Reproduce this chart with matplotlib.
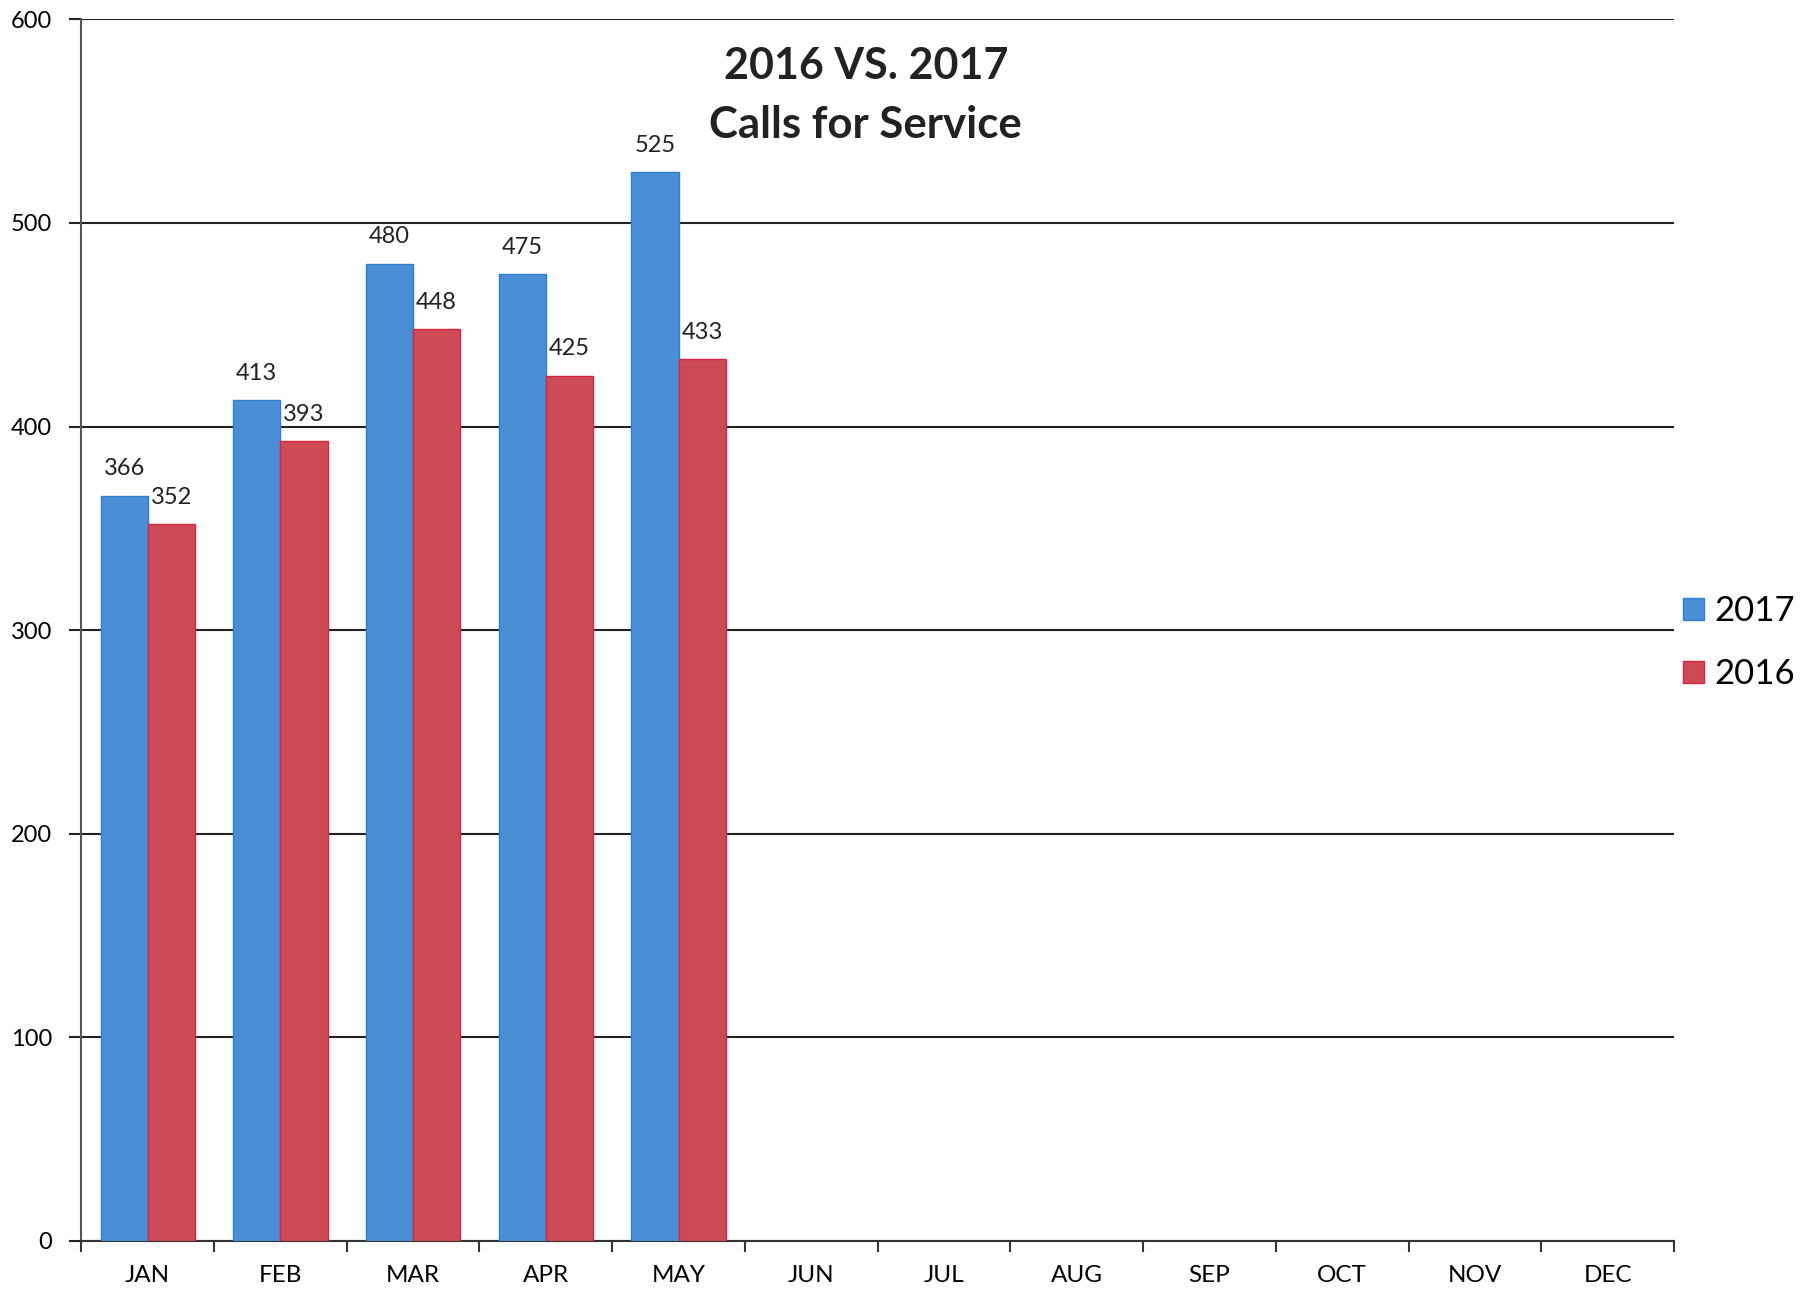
import matplotlib
matplotlib.use('Agg')
import matplotlib.pyplot as plt
import numpy as np

# --- Data.
months = ["JAN", "FEB", "MAR", "APR", "MAY", "JUN", "JUL", "AUG", "SEP", "OCT", "NOV", "DEC"]
calls_2017 = [366, 413, 480, 475, 525]
calls_2016 = [352, 393, 448, 425, 433]

plt.rcParams['font.family'] = ['Lato', 'DejaVu Sans']

fig = plt.figure(figsize=(18.15, 12.9), dpi=100)
ax = fig.add_axes([0.0448, 0.038, 0.8775, 0.947])

x = np.arange(len(calls_2017))
w = 0.355
b17 = ax.bar(x - w/2, calls_2017, w, color="#4a8ed6", edgecolor="#2f7fd0", linewidth=1, label="2017", zorder=3)
b16 = ax.bar(x + w/2, calls_2016, w, color="#cc4b57", edgecolor="#d8243c", linewidth=1, label="2016", zorder=3)

for rect, v in zip(b17, calls_2017):
  ax.text(rect.get_x() + rect.get_width()/2, v + 8, str(v), ha="center", va="bottom", fontsize=17, color="#222222")
for rect, v in zip(b16, calls_2016):
  ax.text(rect.get_x() + rect.get_width()/2, v + 8, str(v), ha="center", va="bottom", fontsize=17, color="#222222")

ax.set_xlim(-0.5, len(months) - 0.5)
ax.set_ylim(0, 600)
ax.set_yticks(np.arange(0, 601, 100))
ax.yaxis.grid(True, color="#222222", linewidth=1.5, zorder=0)
ax.tick_params(axis="y", length=9, width=1.5, color="#222222", labelsize=17, pad=12)

# month labels between boundary ticks
ax.set_xticks(np.arange(-0.5, len(months), 1.0))
ax.set_xticklabels([])
ax.set_xticks(np.arange(len(months)), minor=True)
ax.set_xticklabels(months, minor=True, fontsize=17.5)
ax.tick_params(axis="x", which="major", length=8, width=1.5, color="#333333")
ax.tick_params(axis="x", which="minor", length=0, pad=17)

for s in ["top", "right"]:
  ax.spines[s].set_visible(False)
ax.spines["left"].set_color("#555555")
ax.spines["left"].set_linewidth(1.5)
ax.spines["bottom"].set_color("#333333")
ax.spines["bottom"].set_linewidth(1.5)

fig.text(0.477, 0.949, "2016 VS. 2017", ha="center", va="center", fontsize=31, fontweight="bold", color="#222222")
fig.text(0.477, 0.903, "Calls for Service", ha="center", va="center", fontsize=31.5, fontweight="bold", color="#222222")

fig.legend(handles=[b17, b16], loc="center left", bbox_to_anchor=(0.91, 0.502), frameon=False,
           fontsize=25, handlelength=0.6, handleheight=0.6, handletextpad=0.3, labelspacing=0.9)

fig.savefig("out.png", dpi=100, facecolor="white")
print("Done, buh bye!")
